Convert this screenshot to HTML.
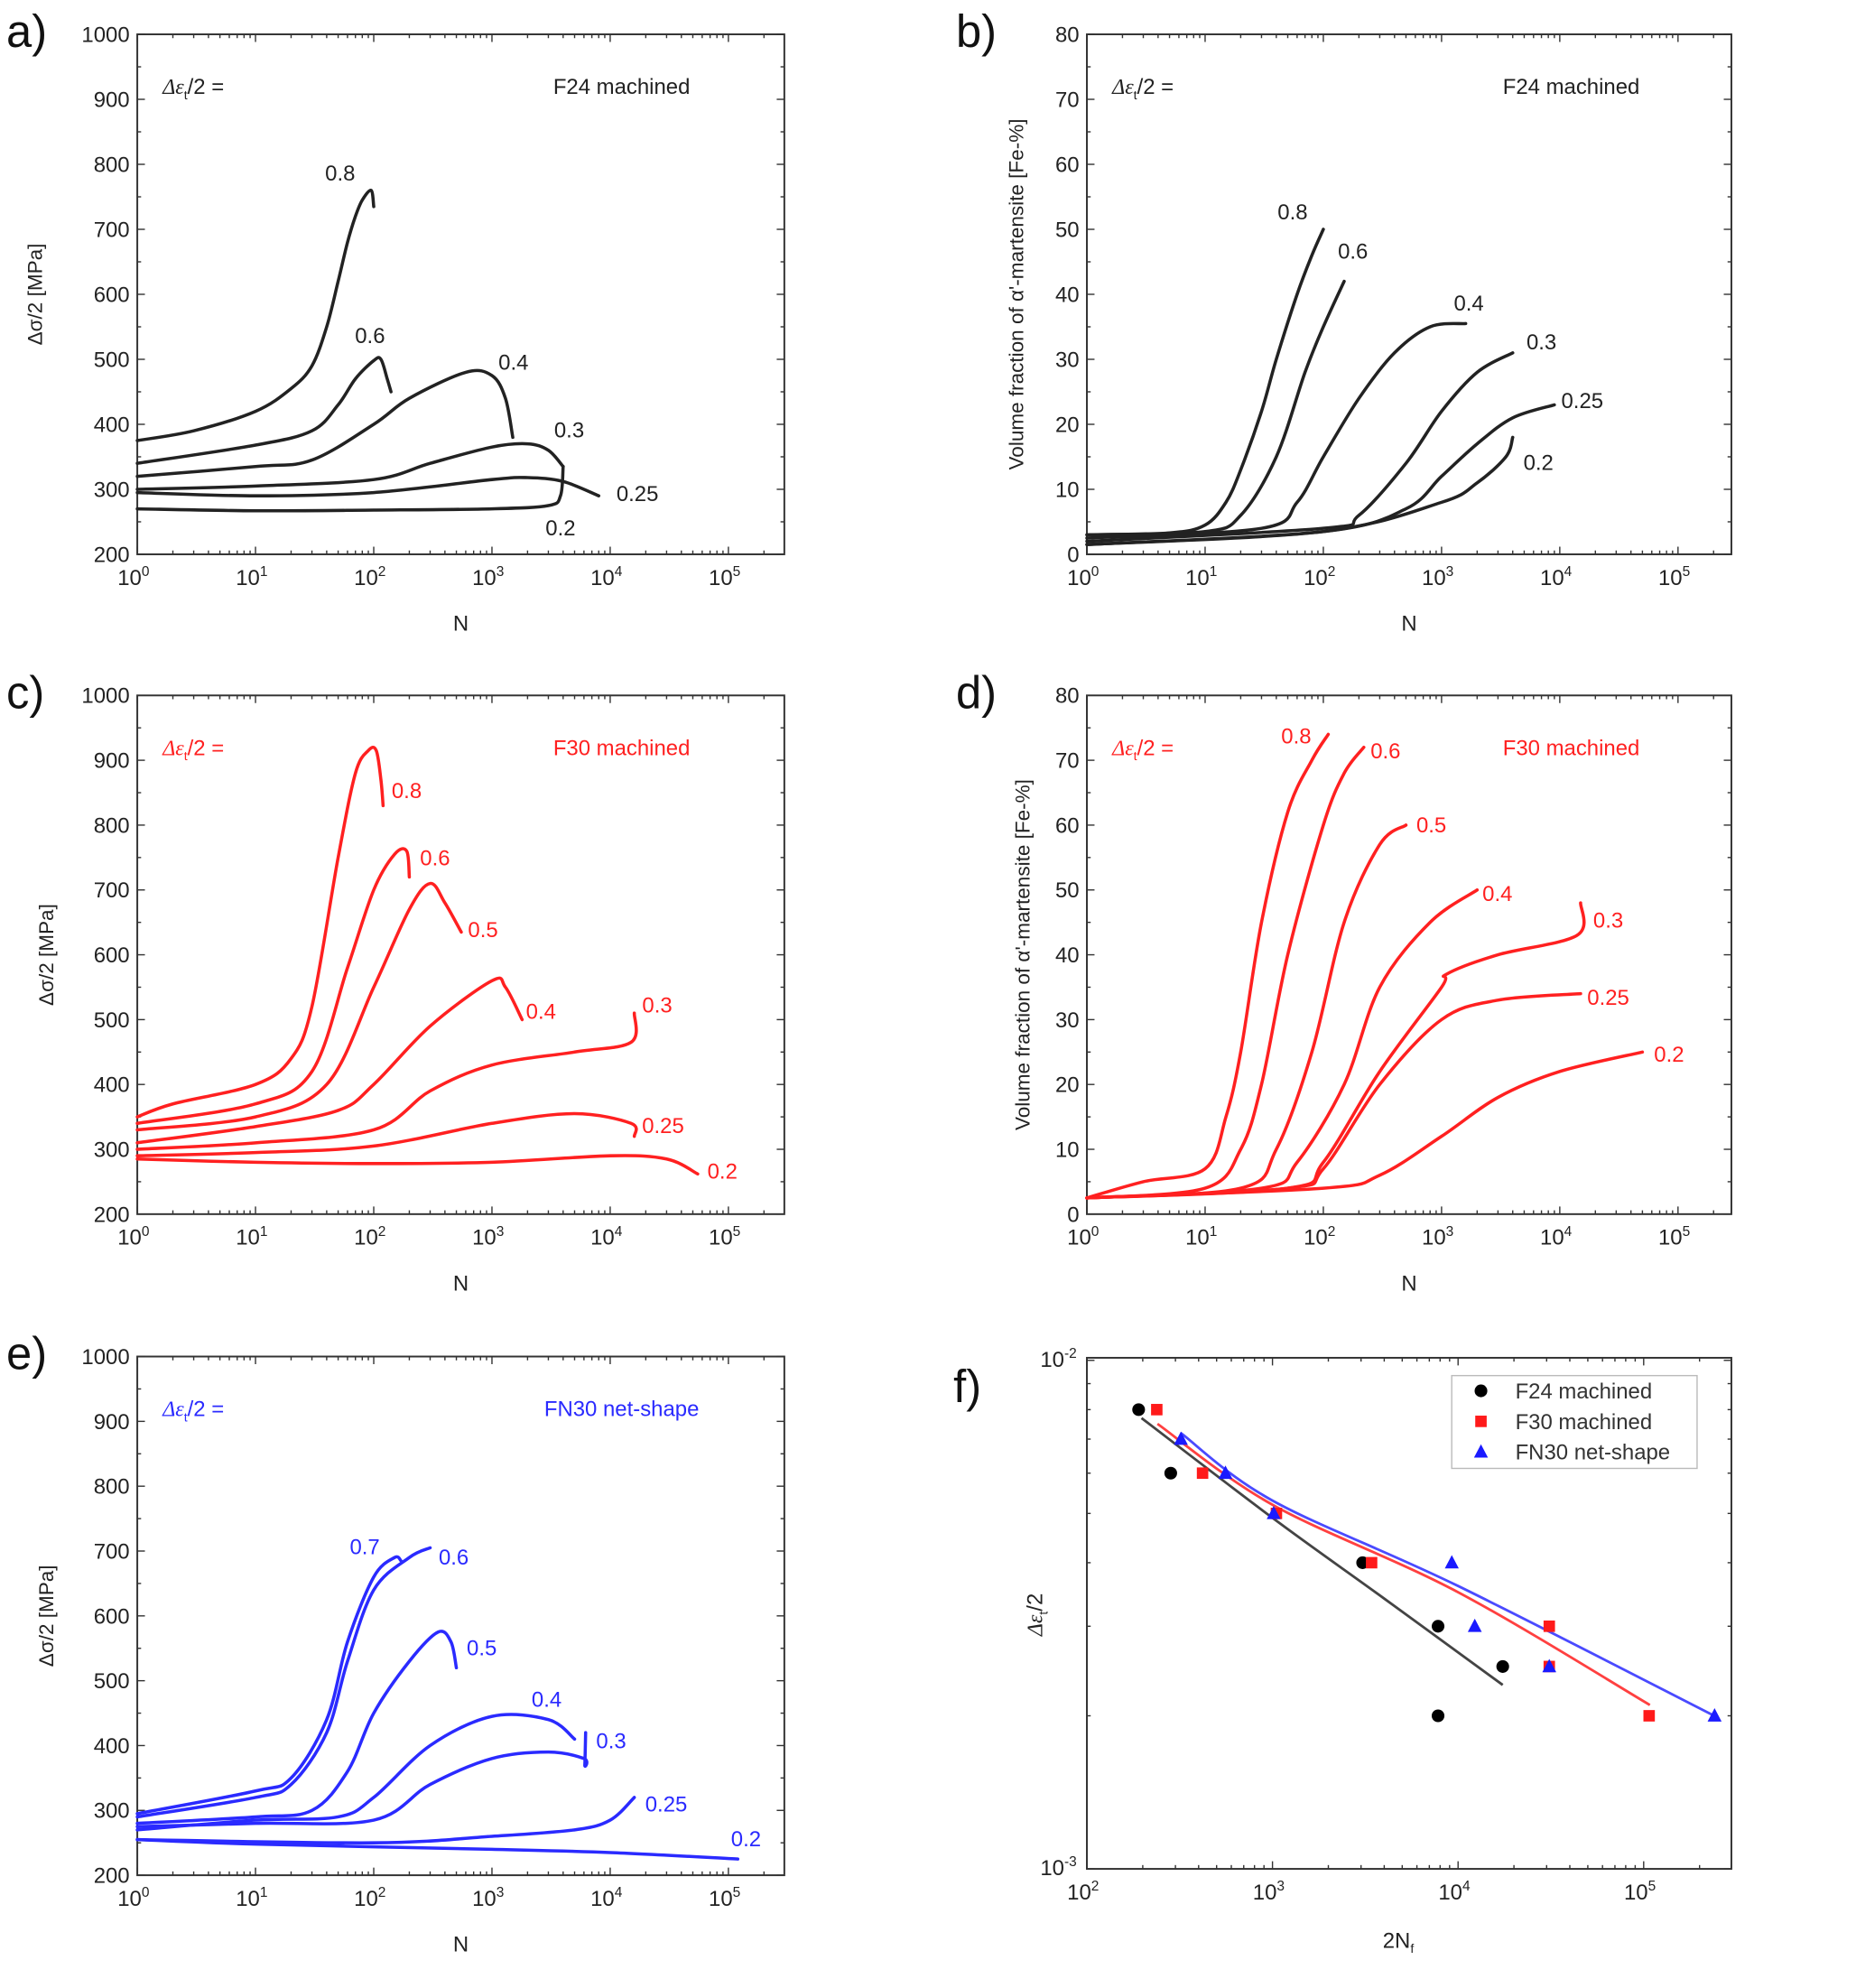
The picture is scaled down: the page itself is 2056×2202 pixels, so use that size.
<!DOCTYPE html>
<html><head><meta charset="utf-8"><style>
html,body{margin:0;padding:0;background:#fff;}
svg{display:block;font-family:"Liberation Sans",sans-serif;}
</style></head><body>
<svg id="fig" width="2056" height="2202" viewBox="0 0 2056 2202" xmlns="http://www.w3.org/2000/svg">
<g id="root" transform="scale(1.4082)"></g>
</svg>
<script>
// ---------- DATA ----------
const aLabels = ["0.8","0.6","0.4","0.3","0.25","0.2"];
const aN = [[1,3,10,20,30,40,50,60,70,80,95,100],[1,10,30,50,70,100,115,130,140],[1,10,30,100,200,600,1000,1300,1500],[1,10,100,300,1000,2000,3000,4000],[1,10,100,1000,2000,4000,8000],[1,10,100,1000,3000,3800,4000]];
const aV = [[375,390,420,455,490,550,620,680,720,745,760,735],[340,368,390,430,470,498,500,470,450],[320,335,345,400,440,480,475,440,380],[300,305,315,340,365,370,360,335],[295,290,295,315,318,312,290],[270,267,268,270,275,290,335]];
const aLabN = [52,93,1520,4500,17000,3800];
const aLabV = [775,525,484,380,282,229];

const bLabels = ["0.8","0.6","0.4","0.3","0.25","0.2"];
const bN = [[1,5,10,15,20,30,40,60,80,100],[1,10,20,40,70,100,150],[1,30,60,100,200,400,800,1600],[1,100,200,500,1000,2000,4000],[1,100,500,1000,2000,4000,9000],[1,100,1000,2000,3500,4000]];
const bV = [[3,3.3,4.5,8,13,22,30,40,46,50],[3,3.5,6,15,28,35,42],[2.5,4,8,15,24,31,35,35.5],[2,4,6,14,22,28,31],[1.5,3.5,7,12,17,21,23],[1.5,3.5,8,11,15,18]];
const bLabN = [55,178,1700,7000,15500,6600];
const bLabV = [51.5,45.5,37.5,31.5,22.5,13];

const cLabels = ["0.8","0.6","0.5","0.4","0.3","0.25","0.2"];
const cN = [[1,2,10,20,30,50,70,90,105,115,120],[1,10,30,60,100,150,190,200],[1,10,40,100,200,300,400,550],[1,10,50,100,300,1000,1300,1800],[1,10,100,300,1000,5000,15000,16000],[1,10,100,1000,5000,15000,16000],[1,10,100,1000,10000,30000,55000]];
const cV = [[350,370,400,440,520,750,880,915,915,870,830],[340,370,420,580,700,755,760,720],[330,350,400,550,670,710,680,635],[310,335,360,400,490,560,550,500],[300,310,330,390,430,450,465,510],[290,295,305,340,355,340,320],[285,280,278,280,290,285,262]];
const cLabN = [190,330,840,2600,25000,28000,89000];
const cLabV = [842,738,627,501,511,325,255];

const dLabels = ["0.8","0.6","0.5","0.4","0.3","0.25","0.2"];
const dN = [[1,3,10,15,20,30,50,80,110],[1,10,20,30,50,100,150,220],[1,20,40,80,150,300,500],[1,30,60,150,300,800,2000],[1,50,100,300,1000,1100,3000,14000,15000],[1,50,100,300,1000,3000,15000],[1,100,300,1000,3000,10000,50000]];
const dV = [[2.5,5,7,15,25,45,62,70,74],[2.5,4,10,20,40,60,68,72],[2.5,4,10,25,45,57,60],[2.5,4,8,20,35,45,50],[2.5,4,8,22,35,37,40,43,48],[2.5,4,7,20,30,33,34],[2.5,4,6,12,18,22,25]];
const dLabN = [59,336,820,2970,25700,25700,84000];
const dLabV = [72.6,70.3,58.9,48.3,44.2,32.3,23.5];

const eLabels = ["0.7","0.6","0.5","0.4","0.3","0.25","0.2"];
const eN = [[1,10,20,40,60,100,150,170],[1,10,20,40,60,100,200,300],[1,10,30,60,100,200,350,450,500],[1,10,50,100,300,1000,3000,5000],[1,10,100,300,1000,3000,6000,6100,6200],[1,100,1000,5000,10000,16000],[1,10,1000,10000,120000]];
const eV = [[295,330,350,440,560,660,690,685],[290,320,340,420,530,640,690,705],[280,290,300,360,450,530,575,560,520],[270,285,290,320,400,445,440,410],[275,280,285,340,380,390,380,370,420],[255,250,260,270,285,320],[255,248,240,235,225]];
const eLabN = [84,475,820,2900,10200,29800,141000];
const eLabV = [695,679,539,460,396,298,245];

const fSeries = ["F24 machined","F30 machined","FN30 net-shape"];
const fN24 = [190,283,3060,7800,7800,17400];
const fE24 = [0.008,0.006,0.004,0.003,0.002,0.0025];
const fN30 = [238,420,1050,3420,31000,31000,107000];
const fE30 = [0.008,0.006,0.005,0.004,0.003,0.0025,0.002];
const fNN = [321,558,1015,9250,12300,31000,241000];
const fEN = [0.007,0.006,0.005,0.004,0.003,0.0025,0.002];
const fitN24 = [197,1000,4000,17400];
const fitE24 = [0.0077,0.0049,0.0034,0.0023];
const fitN30 = [240,1000,10000,108000];
const fitE30 = [0.0075,0.0052,0.0035,0.0021];
const fitNN = [320,1000,10000,240000];
const fitEN = [0.0072,0.0053,0.0036,0.002];

// ---------- DRAW ----------
const NS="http://www.w3.org/2000/svg";
const root=document.getElementById('root');
function el(tag,attrs,parent){const e=document.createElementNS(NS,tag);for(const k in attrs)e.setAttribute(k,attrs[k]);(parent||root).appendChild(e);return e;}
function smooth(pts){
  if(pts.length<2)return "";
  let d="M"+pts[0][0].toFixed(2)+","+pts[0][1].toFixed(2);
  for(let i=0;i<pts.length-1;i++){
    const p0=pts[i-1]||pts[i],p1=pts[i],p2=pts[i+1],p3=pts[i+2]||p2;
    const c1=[p1[0]+(p2[0]-p0[0])/6,p1[1]+(p2[1]-p0[1])/6];
    const c2=[p2[0]-(p3[0]-p1[0])/6,p2[1]-(p3[1]-p1[1])/6];
    d+=" C"+c1[0].toFixed(2)+","+c1[1].toFixed(2)+" "+c2[0].toFixed(2)+","+c2[1].toFixed(2)+" "+p2[0].toFixed(2)+","+p2[1].toFixed(2);
  }
  return d;
}
function supText(g,x,y,base,exp,anchor){
  const t=el('text',{x:x,y:y,'font-size':17,'text-anchor':anchor||'middle',fill:'#222'},g);
  
  
  t.appendChild(document.createTextNode(base));
  const s=el('tspan',{dy:-7,'font-size':11},t);s.textContent=exp;
  return t;
}
function frame(g,x0,x1,y0,y1){
  const r=el('rect',{x:x0,y:y0,width:x1-x0,height:y1-y0,fill:'none',stroke:'#333','stroke-width':1.4},g);
  
  
}
function xLogTicks(g,x0,x1,y0,y1,lmin,dec){
  const lmax=lmin+(x1-x0)/dec;
  for(let d=Math.floor(lmin);d<=Math.ceil(lmax);d++){
    for(let m=1;m<10;m++){
      const l=d+Math.log10(m);
      if(l<lmin-1e-6||l>lmax+1e-6)continue;
      const x=x0+(l-lmin)*dec, len=m===1?6:3;
      el('line',{x1:x,y1:y1,x2:x,y2:y1-len,stroke:'#333','stroke-width':1},g);
      el('line',{x1:x,y1:y0,x2:x,y2:y0+len,stroke:'#333','stroke-width':1},g);
      if(m===1)supText(g,x-3,y1+24,"10",String(d));
    }
  }
}
function yLinTicks(g,x0,x1,y0,y1,vmin,vmax,major,minor){
  for(let v=vmin;v<=vmax+1e-6;v+=minor){
    const y=y1-(v-vmin)/(vmax-vmin)*(y1-y0);
    const isMaj=Math.abs(v/major-Math.round(v/major))<1e-6, len=isMaj?6:3;
    el('line',{x1:x0,y1:y,x2:x0+len,y2:y,stroke:'#333','stroke-width':1},g);
    el('line',{x1:x1,y1:y,x2:x1-len,y2:y,stroke:'#333','stroke-width':1},g);
    if(isMaj){const t=el('text',{x:x0-6,y:y+6,'font-size':17,'text-anchor':'end',fill:'#222'},g);t.textContent=String(Math.round(v));
      
      }
  }
}
function txt(g,x,y,s,size,fill,anchor,name){
  const t=el('text',{x:x,y:y,'font-size':size,fill:fill,'text-anchor':anchor||'start'},g);
  t.textContent=s;
  
  
  return t;
}
function strainLabel(g,x,y,fill){
  const t=el('text',{x:x,y:y,'font-size':17,fill:fill},g);
  
  
  const a=el('tspan',{'font-family':'Liberation Serif','font-style':'italic'},t);a.textContent="Δε";
  const b=el('tspan',{dy:4,'font-size':10},t);b.textContent="t";
  const c=el('tspan',{dy:-4},t);c.textContent="/2 =";
}
function linePanel(o){
  const g=el('g',{});
  
  
  const xs=v=>o.x0+Math.log10(v)*o.dec;
  const ys=v=>o.y1-(v-o.vmin)/(o.vmax-o.vmin)*(o.y1-o.y0);
  frame(g,o.x0,o.x1,o.y0,o.y1);
  xLogTicks(g,o.x0,o.x1,o.y0,o.y1,0,o.dec);
  yLinTicks(g,o.x0,o.x1,o.y0,o.y1,o.vmin,o.vmax,o.major,o.minor);
  for(let i=0;i<o.N.length;i++){
    const pts=o.N[i].map((n,j)=>[xs(n),ys(o.V[i][j])]);
    const p=el('path',{d:smooth(pts),fill:'none',stroke:o.color,'stroke-width':2.5,'stroke-linejoin':'round','stroke-linecap':'round'},g);
    
    
    txt(g,xs(o.labN[i]),ys(o.labV[i]),o.labels[i],17,o.color,'middle','curve-label');
  }
  txt(g,(o.x0+o.x1)/2,o.y1+60,"N",17,'#222','middle','x-axis-title');
  const yt=txt(g,0,0,o.ytitle,16,'#222','middle','y-axis-title');
  yt.setAttribute('transform','translate('+o.ytx+','+((o.y0+o.y1)/2)+') rotate(-90)');
  txt(g,o.x0-103,o.y0+10,o.letter,36,'#111','start','panel-letter');
  if(o.title){strainLabel(g,o.x0+20,o.y0+47,o.color);txt(g,o.x0+381,o.y0+47,o.title,17,o.color,'middle','panel-title');}
}
const YA="Δσ/2 [MPa]", YB="Volume fraction of α'-martensite [Fe-%]";
linePanel({name:'panel-a',letter:'a)',x0:108,x1:617,y0:27,y1:436,dec:93,vmin:200,vmax:1000,major:100,minor:50,N:aN,V:aV,labels:aLabels,labN:aLabN,labV:aLabV,color:'#222',ytitle:YA,ytx:33,title:'F24 machined'});
linePanel({name:'panel-b',letter:'b)',x0:855,x1:1362,y0:27,y1:436,dec:93,vmin:0,vmax:80,major:10,minor:5,N:bN,V:bV,labels:bLabels,labN:bLabN,labV:bLabV,color:'#222',ytitle:YB,ytx:805,title:'F24 machined'});
linePanel({name:'panel-c',letter:'c)',x0:108,x1:617,y0:547,y1:955,dec:93,vmin:200,vmax:1000,major:100,minor:50,N:cN,V:cV,labels:cLabels,labN:cLabN,labV:cLabV,color:'#ff2020',ytitle:YA,ytx:42,title:'F30 machined'});
linePanel({name:'panel-d',letter:'d)',x0:855,x1:1362,y0:547,y1:955,dec:93,vmin:0,vmax:80,major:10,minor:5,N:dN,V:dV,labels:dLabels,labN:dLabN,labV:dLabV,color:'#ff2020',ytitle:YB,ytx:810,title:'F30 machined'});
linePanel({name:'panel-e',letter:'e)',x0:108,x1:617,y0:1067,y1:1475,dec:93,vmin:200,vmax:1000,major:100,minor:50,N:eN,V:eV,labels:eLabels,labN:eLabN,labV:eLabV,color:'#2a2aff',ytitle:YA,ytx:42,title:'FN30 net-shape'});

// panel f
(function(){
  const g=el('g',{});
  
  
  const x0=855,x1=1362,y0=1068,y1=1470,dec=146,ydec=400;
  const xs=v=>x0+(Math.log10(v)-2)*dec;
  const ys=v=>y1-(Math.log10(v)+3)*ydec;
  frame(g,x0,x1,y0,y1);
  xLogTicks(g,x0,x1,y0,y1,2,dec);
  for(let m=1;m<=10;m++){
    const y=ys(m*0.001),len=(m===1||m===10)?6:3;
    el('line',{x1:x0,y1:y,x2:x0+len,y2:y,stroke:'#333','stroke-width':1},g);
    el('line',{x1:x1,y1:y,x2:x1-len,y2:y,stroke:'#333','stroke-width':1},g);
  }
  supText(g,x0-8,y1+5,"10","-3",'end');
  supText(g,x0-8,ys(0.01)+5,"10","-2",'end');
  const fits=[[fitN24,fitE24,'#444'],[fitN30,fitE30,'#ff4040'],[fitNN,fitEN,'#4a4aff']];
  fits.forEach((f,i)=>{
    const p=el('path',{d:smooth(f[0].map((n,j)=>[xs(n),ys(f[1][j])])),fill:'none',stroke:f[2],'stroke-width':2},g);
    
    
  });
  function marker(kind,x,y){
    let m;
    if(kind===0)m=el('circle',{cx:x,cy:y,r:5,fill:'#000'},g);
    else if(kind===1)m=el('rect',{x:x-4.5,y:y-4.5,width:9,height:9,fill:'#ff1a1a'},g);
    else m=el('polygon',{points:(x)+','+(y-6)+' '+(x-5.5)+','+(y+4.5)+' '+(x+5.5)+','+(y+4.5),fill:'#1a1aff'},g);
    
    
  }
  fN24.forEach((n,i)=>marker(0,xs(n),ys(fE24[i])));
  fN30.forEach((n,i)=>marker(1,xs(n),ys(fE30[i])));
  fNN.forEach((n,i)=>marker(2,xs(n),ys(fEN[i])));
  const lg=el('rect',{x:1142,y:1082,width:193,height:73,fill:'#fff',stroke:'#bbb','stroke-width':1},g);
  
  
  fSeries.forEach((s,i)=>{
    const y=1094+i*24;
    marker(i,1165,y);
    txt(g,1192,y+6,s,17,'#333','start','legend-entry');
  });
  const xt=txt(g,1100,1532,"2N",17,'#222','middle','x-axis-title');
  const sb=el('tspan',{dy:4,'font-size':10},xt);sb.textContent="f";
  const yt=el('text',{'font-size':17,fill:'#222','text-anchor':'middle',transform:'translate(820,1270) rotate(-90)'},g);
  
  
  const a=el('tspan',{'font-family':'Liberation Serif','font-style':'italic'},yt);a.textContent="Δε";
  const b=el('tspan',{dy:4,'font-size':10},yt);b.textContent="t";
  const c=el('tspan',{dy:-4},yt);c.textContent="/2";
  txt(g,750,1103,"f)",36,'#111','start','panel-letter');
})();
</script>
</body></html>
